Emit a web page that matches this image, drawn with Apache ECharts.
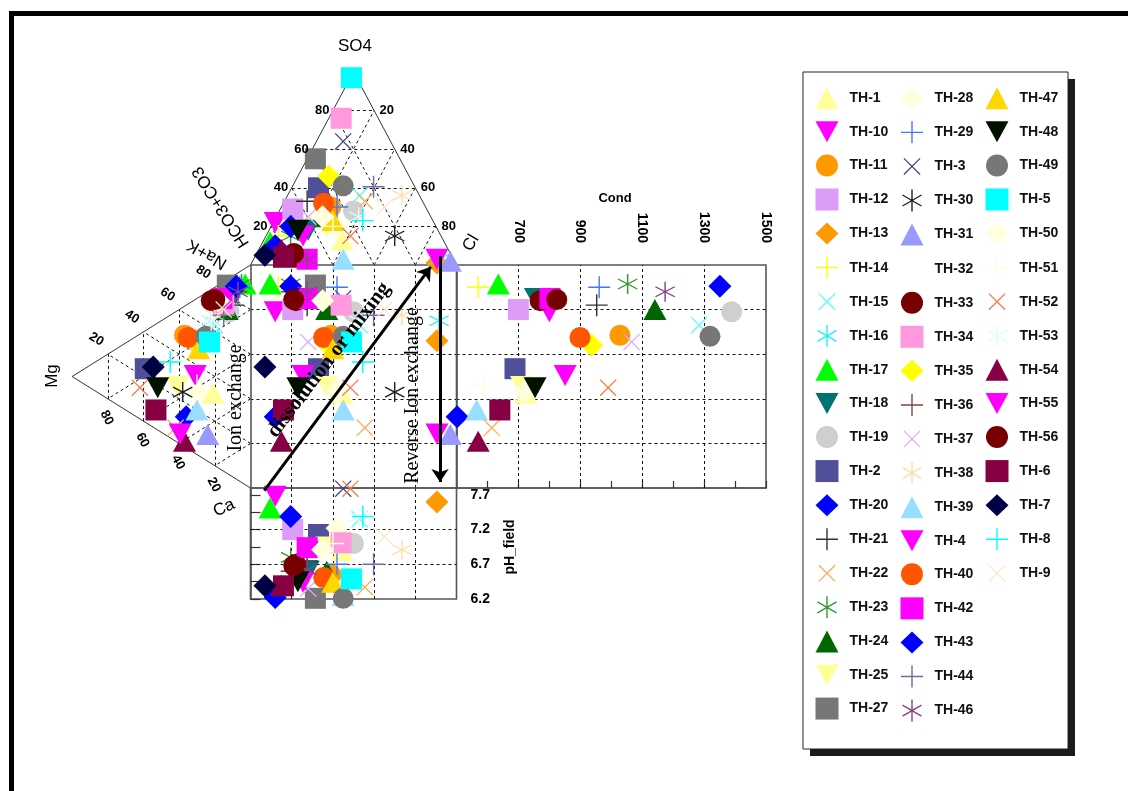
<!DOCTYPE html>
<html>
<head>
<meta charset="utf-8">
<script src="https://cdn.jsdelivr.net/npm/echarts@6/dist/echarts.min.js"></script>
<style>
html, body { margin: 0; padding: 0; background: #fff; }
#chart { width: 1128px; height: 791px; }
</style>
</head>
<body>
<div id="chart"></div>
<script>
// ---- Sample data (percent of meq for cations / anions, conductivity, field pH) ----
const SAMPLES = ['TH-1','TH-10','TH-11','TH-12','TH-13','TH-14','TH-15','TH-16','TH-17','TH-18','TH-19','TH-2','TH-20','TH-21','TH-22','TH-23','TH-24','TH-25','TH-27','TH-28','TH-29','TH-3','TH-30','TH-31','TH-32','TH-33','TH-34','TH-35','TH-36','TH-37','TH-38','TH-39','TH-4','TH-40','TH-42','TH-43','TH-44','TH-46','TH-47','TH-48','TH-49','TH-5','TH-50','TH-51','TH-52','TH-53','TH-54','TH-55','TH-56','TH-6','TH-7','TH-8','TH-9'];

const CA   = [47,12,13,13,19,4,17,14,7,10,15,17,50,13,52,6,13.5,34,2.5,42,7,10,38,64,20,5,10.5,21,8,19.5,12.5,50,34,15,7,5.5,15,8.5,23,29,19.5,23,7,39,24,14,60.5,56,5.5,38.5,18.5,21,12.5];
const MG   = [21,18,37,14,30,12,20,22,3,10,12,59,36,10,42,5,13,41,13,30,6,10,38,24,20,22,15,30,8,30,20,30,31,35,16,8,15,7,29,52,25,23,18,30,62,22,37,39.5,20,53,54.5,45,15];
const NAK  = [32,70,50,73,51,84,63,64,90,80,73,24,14,77,6,89,73.5,25,84.5,28,87,80,24,12,60,73,74.5,49,84,50.5,67.5,20,35,50,77,86.5,70,84.5,48,19,55.5,54,75,31,14,64,2.5,4.5,74.5,8.5,27,34,72.5];

const HCO3 = [49,77,46,65,9,79,29,7,84.5,63,36,47,83,56,28,73,50.5,53,41,48,43,23,22.5,2,60,76,18,39,70,59.5,8.5,53.5,67,48.5,71,70.5,20,71,48.5,68,34.5,2.5,52.5,50,44,35,81,8,76,82,90.5,34,20];
const SO4  = [13,22,30,29,1,15,36,3,12,18,28,40,10,33,33,15,25,20,55,20,30,64,15,2,20,4,76,46,20,25,36,3,15,32,3,20,40.5,3,23,18,41,97,25,20,15,25,8,3,6,4,5,23,30];
const CL   = [38,1,24,6,90,6,35,90,3.5,19,36,13,7,11,39,12,24.5,27,4,32,27,13,62.5,96,20,20,6,15,10,15.5,55.5,43.5,18,19.5,26,9.5,39.5,26,28.5,14,24.5,0.5,22.5,30,41,40,11,89,18,14,4.5,43,50];

const COND = [725,800,1028,700,1560,570,1284,1610,635,755,1389,689,502,953,614,1053,1141,710,1580,722,961,1650,1720,480,800,770,1540,937,1590,1066,1680,565,851,899,802,1351,1630,1174,1570,754,1319,1760,830,587,990,1620,570,1660,824,640,1550,1700,1600];
const PH   = [6.90,7.68,6.55,7.20,7.60,6.30,7.35,7.92,7.51,6.60,7.00,7.13,6.22,6.75,6.37,6.80,6.60,6.95,6.21,7.22,6.70,7.79,7.95,7.88,6.80,6.70,7.01,6.45,6.60,6.35,6.91,6.25,6.44,6.51,6.94,7.39,6.70,6.62,6.44,6.45,6.21,6.49,6.91,7.00,7.79,7.38,6.40,7.85,6.68,6.39,6.39,7.39,7.10];

// ---- Axis ticks ----
const TERNARY_TICKS = [20, 40, 60, 80];
const COND_LABELS = [700, 900, 1100, 1300, 1500];
const COND_TICKS = [600, 700, 800, 900, 1000, 1100, 1200, 1300, 1400, 1500];
const COND_GRID = [700, 900, 1100, 1300];
const PH_LABELS = [6.2, 6.7, 7.2, 7.7];
const PH_TICKS = [6.2, 6.45, 6.7, 6.95, 7.2, 7.45, 7.7];
const PH_GRID = [6.7, 7.2];

// ---- Marker styles ----
function barsBody(angles, t) {
  // thin filled bars through the centre of a 100x100 box
  return angles.map(function (a) {
    const r = a * Math.PI / 180;
    const dx = Math.cos(r) * 50, dy = Math.sin(r) * 50;
    const nx = -Math.sin(r) * t, ny = Math.cos(r) * t;
    const p = [[50 - dx + nx, 50 - dy + ny], [50 + dx + nx, 50 + dy + ny], [50 + dx - nx, 50 + dy - ny], [50 - dx - nx, 50 - dy - ny]];
    return 'M' + p.map(function (q) { return q[0].toFixed(2) + ',' + q[1].toFixed(2); }).join('L') + 'Z';
  }).join('');
}
function bars(angles, t) { return 'path://' + barsBody(angles, t); }

const SHAPES = {
  tri:     { symbol: 'triangle', size: [23, 21] },
  down:    { symbol: 'path://M0,0L23,0L11.5,21Z', size: [23, 21] },
  circle:  { symbol: 'circle', size: 21 },
  rect:    { symbol: 'rect', size: 21 },
  diamond: { symbol: 'diamond', size: [23, 23] },
  plus:    { symbol: bars([0, 90], 3.2), size: 22 },
  cross:   { symbol: bars([45, 135], 2.8), size: 17 },
  star:    { symbol: bars([90, 30, 150], 3.2), size: 20 },
  none:    { symbol: 'circle', size: 1 }
};
// legend keeps the cross a little smaller than its box, like the other line markers
const CROSS_LEGEND_ICON = 'path://M2,2M98,98' + barsBody([45, 135], 2.8);

const STYLE = {
  'TH-1': ['tri', '#FFFF99'], 'TH-10': ['down', '#FF00FF'], 'TH-11': ['circle', '#FF9900'], 'TH-12': ['rect', '#DD9CF7'],
  'TH-13': ['diamond', '#FF9900'], 'TH-14': ['plus', '#FFFF00'], 'TH-15': ['cross', '#55FFFF'], 'TH-16': ['star', '#22EEFF'],
  'TH-17': ['tri', '#00FF00'], 'TH-18': ['down', '#007272'], 'TH-19': ['circle', '#CFCFCF'], 'TH-2': ['rect', '#50509A'],
  'TH-20': ['diamond', '#0000FF'], 'TH-21': ['plus', '#333333'], 'TH-22': ['cross', '#FFAA55'], 'TH-23': ['star', '#339933'],
  'TH-24': ['tri', '#006600'], 'TH-25': ['down', '#FFFF99'], 'TH-27': ['rect', '#777777'], 'TH-28': ['diamond', '#FFFFDD'],
  'TH-29': ['plus', '#4477FF'], 'TH-3': ['cross', '#444488'], 'TH-30': ['star', '#222222'], 'TH-31': ['tri', '#9999FF'],
  'TH-32': ['none', 'rgba(0,0,0,0)'], 'TH-33': ['circle', '#770000'], 'TH-34': ['rect', '#FF99DD'], 'TH-35': ['diamond', '#FFFF00'],
  'TH-36': ['plus', '#884444'], 'TH-37': ['cross', '#E0AAFF'], 'TH-38': ['star', '#FFDDAA'], 'TH-39': ['tri', '#99DDFF'],
  'TH-4': ['down', '#FF00FF'], 'TH-40': ['circle', '#FF5500'], 'TH-42': ['rect', '#FF00FF'], 'TH-43': ['diamond', '#0000FF'],
  'TH-44': ['plus', '#7766AA'], 'TH-46': ['star', '#884488'], 'TH-47': ['tri', '#FFD700'], 'TH-48': ['down', '#001100'],
  'TH-49': ['circle', '#777777'], 'TH-5': ['rect', '#00FFFF'], 'TH-50': ['diamond', '#FFFFDD'], 'TH-51': ['plus', '#FFFFDD'],
  'TH-52': ['cross', '#FF7744'], 'TH-53': ['star', '#DDFFFF'], 'TH-54': ['tri', '#880044'], 'TH-55': ['down', '#FF00FF'],
  'TH-56': ['circle', '#770000'], 'TH-6': ['rect', '#880044'], 'TH-7': ['diamond', '#000044'], 'TH-8': ['plus', '#00FFFF'],
  'TH-9': ['cross', '#FFE6C8']
};

// ---- Durov geometry: square is 0..100 both ways, triangles have side 100 ----
const H = 50 * Math.sqrt(3);
function anionPos(i) {
  const t = HCO3[i] + SO4[i] + CL[i];
  const s = SO4[i] / t * 100, c = CL[i] / t * 100;
  return [c + s / 2, 100 + s * H / 100];
}
function cationPos(i) {
  const t = CA[i] + MG[i] + NAK[i];
  const m = MG[i] / t * 100, n = NAK[i] / t * 100;
  return [-m * H / 100, m / 2 + n];
}

const SANS = '"Liberation Sans", Arial, sans-serif';
const SERIF = '"Liberation Serif", "Times New Roman", serif';

// ---- Frame and grid lines ----
const squareEdges = [[[0, 0], [100, 0]], [[100, 0], [100, 100]], [[100, 100], [0, 100]], [[0, 100], [0, 0]]];
const triangleEdges = [[[0, 100], [50, 100 + H]], [[50, 100 + H], [100, 100]], [[0, 0], [-H, 50]], [[-H, 50], [0, 100]]];
const dash0 = [];
TERNARY_TICKS.forEach(function (p) {
  const q = 100 - p;
  dash0.push([[p, 0], [p, 100]]);
  dash0.push([[0, p], [100, p]]);
  dash0.push([[p / 2, 100 + H * p / 100], [100 - p / 2, 100 + H * p / 100]]);
  dash0.push([[p, 100], [p + q / 2, 100 + H * q / 100]]);
  dash0.push([[q, 100], [q / 2, 100 + H * q / 100]]);
  dash0.push([[-H * p / 100, p / 2], [-H * p / 100, 100 - p / 2]]);
  dash0.push([[0, p], [-H * q / 100, 50 + p / 2]]);
  dash0.push([[0, q], [-H * q / 100, q / 2]]);
});
const dash1 = COND_GRID.map(function (c) { return [[c, 0], [c, 100]]; })
  .concat(TERNARY_TICKS.map(function (p) { return [[500, p], [1500, p]]; }));
const dash2 = TERNARY_TICKS.map(function (p) { return [[p, 6.2], [p, 7.8]]; })
  .concat(PH_GRID.map(function (v) { return [[0, v], [100, v]]; }));

function linesSeries(segs, gi, style, z) {
  return {
    type: 'lines', coordinateSystem: 'cartesian2d', xAxisIndex: gi, yAxisIndex: gi,
    polyline: false, silent: true, clip: false, z: z, animation: false,
    lineStyle: Object.assign({ opacity: 1 }, style),
    data: segs.map(function (s) { return { coords: s }; })
  };
}

// ---- Ternary tick labels ----
// label offsets are applied in the rotated frame, so turn the wanted screen shift back
function rotOffset(dx, dy, deg) {
  const r = -deg * Math.PI / 180, c = Math.cos(r), s = Math.sin(r);
  return [dx * c + dy * s, -dx * s + dy * c];
}
const tickLabels = [];
TERNARY_TICKS.forEach(function (p) {
  const q = 100 - p;
  tickLabels.push({ name: String(p), value: [p / 2, 100 + H * p / 100], label: { position: 'left', distance: 3 } });
  tickLabels.push({ name: String(q), value: [100 - p / 2, 100 + H * p / 100], label: { position: 'right', distance: 5 } });
  tickLabels.push({ name: String(q), value: [-H * p / 100, 100 - p / 2], label: { position: 'inside', offset: rotOffset(-11.5, -15, -32), rotate: -32 } });
  tickLabels.push({ name: String(p), value: [-H * p / 100, p / 2], label: { position: 'inside', offset: rotOffset(-1, 19, -62), rotate: -62 } });
});

const series = [
  linesSeries(dash0, 0, { color: '#111', width: 1, type: [3, 3] }, 1),
  linesSeries(dash1, 1, { color: '#111', width: 1, type: [3, 3] }, 1),
  linesSeries(dash2, 2, { color: '#111', width: 1, type: [3, 3] }, 1),
  linesSeries(triangleEdges, 0, { color: '#333', width: 1 }, 1),
  linesSeries(squareEdges, 0, { color: '#555', width: 1.6 }, 1),
  {
    type: 'scatter', xAxisIndex: 0, yAxisIndex: 0, silent: true, clip: false, z: 3,
    symbol: 'circle', symbolSize: 1, itemStyle: { color: 'rgba(0,0,0,0)', opacity: 1 },
    label: { show: true, formatter: '{b}', fontSize: 13, fontWeight: 'bold', color: '#000', fontFamily: SANS },
    data: tickLabels
  }
];

// ---- Sample markers: anion triangle, cation triangle, square, Cond panel, pH panel ----
SAMPLES.forEach(function (name, i) {
  const st = STYLE[name];
  const sh = SHAPES[st[0]];
  const a = anionPos(i), c = cationPos(i);
  const common = {
    type: 'scatter', name: name, symbol: sh.symbol, symbolSize: sh.size,
    itemStyle: { color: st[1], opacity: 1 }, silent: true, emphasis: { disabled: true }, animation: false, z: 2
  };
  series.push(Object.assign({}, common, { xAxisIndex: 0, yAxisIndex: 0, clip: false, data: [a, c, [a[0], c[1]]] }));
  series.push(Object.assign({}, common, { xAxisIndex: 1, yAxisIndex: 1, clip: true, data: [[COND[i], c[1]]] }));
  series.push(Object.assign({}, common, { xAxisIndex: 2, yAxisIndex: 2, clip: true, data: [[a[0], PH[i]]] }));
});

// ---- Process arrows ----
series.push({
  type: 'lines', coordinateSystem: 'cartesian2d', xAxisIndex: 0, yAxisIndex: 0, polyline: false,
  silent: true, clip: false, z: 6, animation: false,
  symbol: ['none', 'arrow'], symbolSize: 13,
  lineStyle: { color: '#000', width: 3, opacity: 1 },
  itemStyle: { color: '#000', opacity: 1 },
  data: [{ coords: [[6.7, -1.2], [87.5, 99.2]] }, { coords: [[92, 104], [92, 2.7]] }]
});

function legendCol(names, left) {
  return {
    data: names.map(function (n) {
      return STYLE[n][0] === 'cross' ? { name: n, icon: CROSS_LEGEND_ICON } : { name: n };
    }),
    orient: 'vertical', left: left, top: 87.3, padding: 0,
    itemWidth: 23, itemHeight: 22, itemGap: 12.07, selectedMode: false,
    itemStyle: { opacity: 1 },
    textStyle: { fontSize: 14, fontWeight: 'bold', color: '#111', fontFamily: SANS, padding: [0, 0, 0, 6] }
  };
}

function txt(text, x, y, rot, size, family, weight) {
  return {
    type: 'text', x: x, y: y, rotation: rot * Math.PI / 180, z: 20, silent: true,
    style: { text: text, fill: '#000', fontSize: size, fontFamily: family, fontWeight: weight || 'normal', align: 'center', verticalAlign: 'middle' }
  };
}

const option = {
  animation: false,
  backgroundColor: '#fff',
  grid: [
    { left: 72.1, top: 71.9, width: 384.4, height: 416.1, show: false, containLabel: false, outerBoundsMode: 'none' },
    { left: 456.5, top: 265, width: 309.5, height: 223, show: true, borderColor: '#555', borderWidth: 1.6, containLabel: false, outerBoundsMode: 'none' },
    { left: 250.5, top: 488, width: 206, height: 111, show: true, borderColor: '#555', borderWidth: 1.6, containLabel: false, outerBoundsMode: 'none' }
  ],
  xAxis: [
    { gridIndex: 0, type: 'value', min: -H, max: 100, show: false },
    {
      gridIndex: 1, type: 'value', min: 500, max: 1500, position: 'top',
      axisLine: { show: true, lineStyle: { color: '#555', width: 1.6 } },
      axisTick: { show: true, length: 7, customValues: COND_TICKS, lineStyle: { color: '#333', width: 1.2 } },
      axisLabel: { customValues: COND_LABELS, formatter: function (v) { return String(v); }, rotate: -90, margin: 22, fontSize: 14, fontWeight: 'bold', color: '#000', fontFamily: SANS },
      splitLine: { show: false }
    },
    { gridIndex: 2, type: 'value', min: 0, max: 100, show: false }
  ],
  yAxis: [
    { gridIndex: 0, type: 'value', min: 0, max: 100 + H, show: false },
    { gridIndex: 1, type: 'value', min: 0, max: 100, show: false },
    {
      gridIndex: 2, type: 'value', min: 6.2, max: 7.8, position: 'right',
      axisLine: { show: true, lineStyle: { color: '#555', width: 1.6 } },
      axisTick: { show: true, length: 10, customValues: PH_TICKS, lineStyle: { color: '#333', width: 1.2 } },
      axisLabel: { customValues: PH_LABELS, formatter: function (v) { return v.toFixed(1); }, margin: 14, fontSize: 14, fontWeight: 'bold', color: '#000', fontFamily: SANS },
      splitLine: { show: false }
    }
  ],
  legend: [
    legendCol(SAMPLES.slice(0, 19), 815.5),
    legendCol(SAMPLES.slice(19, 38), 900.5),
    legendCol(SAMPLES.slice(38), 985.5)
  ],
  graphic: [
    { type: 'rect', shape: { x: 9, y: 11, width: 1119, height: 5 }, style: { fill: '#000' }, silent: true },
    { type: 'rect', shape: { x: 9, y: 11, width: 5, height: 780 }, style: { fill: '#000' }, silent: true },
    { type: 'rect', shape: { x: 810, y: 79, width: 265, height: 677 }, style: { fill: '#1c1c1c' }, silent: true },
    { type: 'rect', shape: { x: 803, y: 72, width: 265, height: 677 }, style: { fill: '#fff', stroke: '#222', lineWidth: 1 }, silent: true },
    txt('SO4', 355, 46, 0, 17, SANS),
    txt('HCO3+CO3', 221, 207, 122, 17, SANS),
    txt('Na+K', 207, 254, 150, 17, SANS),
    txt('Cl', 471, 243, 60, 17, SANS),
    txt('Mg', 52, 376, 90, 17, SANS),
    txt('Ca', 224, 508, 25, 17, SANS),
    txt('Cond', 615, 198, 0, 13, SANS, 'bold'),
    txt('pH_field', 510, 547, 90, 14, SANS, 'bold'),
    txt('Ion exchange', 235.5, 398, 90, 20, SERIF),
    txt('dissolution or mixing', 329, 360, 52.7, 21, SERIF, 'bold'),
    txt('Reverse Ion exchange', 412.5, 395.5, 90, 20, SERIF)
  ],
  series: series
};

const chart = echarts.init(document.getElementById('chart'));
chart.setOption(option);
</script>
</body>
</html>
